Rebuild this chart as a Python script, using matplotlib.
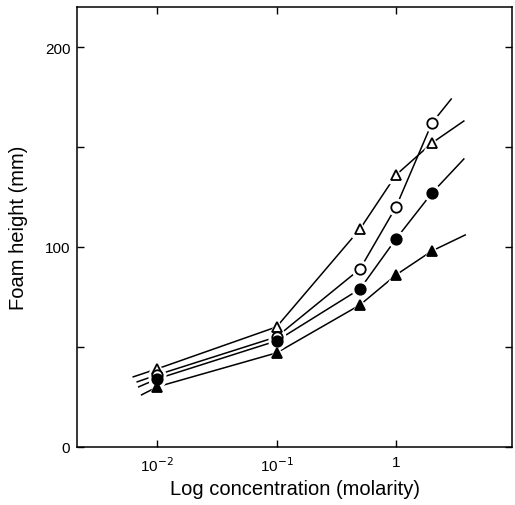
import numpy as np
import matplotlib.pyplot as plt

plt.rcParams['font.family'] = ['Liberation Sans', 'DejaVu Sans']

# concentrations (molarity) of the measured points
conc = [0.01, 0.1, 0.5, 1.0, 2.0]

# foam height (mm) for each series
open_tri = [39, 60, 109, 136, 152]
open_circ = [36, 55, 89, 120, 162]
fill_circ = [34, 53, 79, 104, 127]
fill_tri = [30, 47, 71, 86, 98]

# where the drawn lines start and stop
line_start_x = [0.0063, 0.0068, 0.0070, 0.0074]
line_start_y = [35, 32.5, 30, 26]
line_end_x = [3.7, 2.9, 3.7, 3.8]
line_end_y = [163, 174, 144, 106]

series = [open_tri, open_circ, fill_circ, fill_tri]
markers = ['^', 'o', 'o', '^']
faces = ['white', 'white', 'black', 'black']

fig = plt.figure(figsize=(5.15, 5.06), dpi=100)
ax = fig.add_axes([0.150, 0.115, 0.844, 0.869])

for i, ys in enumerate(series):
    xs = [line_start_x[i]] + conc + [line_end_x[i]]
    yy = [line_start_y[i]] + ys + [line_end_y[i]]
    ax.plot(xs, yy, color='black', lw=1.1, zorder=1)
    # white halo so the line stops short of each marker
    ax.plot(conc, ys, ls='none', marker=markers[i], ms=12,
            mfc='white', mec='white', zorder=2)

for i, ys in enumerate(series):
    ax.plot(conc, ys, ls='none', marker=markers[i], ms=7.5,
            mfc=faces[i], mec='black', mew=1.3, zorder=3)

ax.set_xscale('log')
ax.set_xlim(0.00214, 9.35)
ax.set_ylim(0, 220)

ax.set_xticks([0.01, 0.1, 1])
ax.set_xticklabels(['10$^{-2}$', '10$^{-1}$', '1'])
ax.xaxis.set_minor_locator(plt.NullLocator())
ax.set_yticks([0, 50, 100, 150, 200])
ax.set_yticklabels(['0', '', '100', '', '200'])

ax.tick_params(direction='in', top=True, right=True, length=5, width=1,
               labelsize=11)
ax.tick_params(axis='x', pad=6)
ax.tick_params(axis='y', pad=5)
for s in ax.spines.values():
    s.set_linewidth(1.1)

ax.set_xlabel('Log concentration (molarity)', fontsize=14.5, labelpad=4)
ax.set_ylabel('Foam height (mm)', fontsize=14.5, labelpad=12)

fig.savefig('out.png', dpi=100)
